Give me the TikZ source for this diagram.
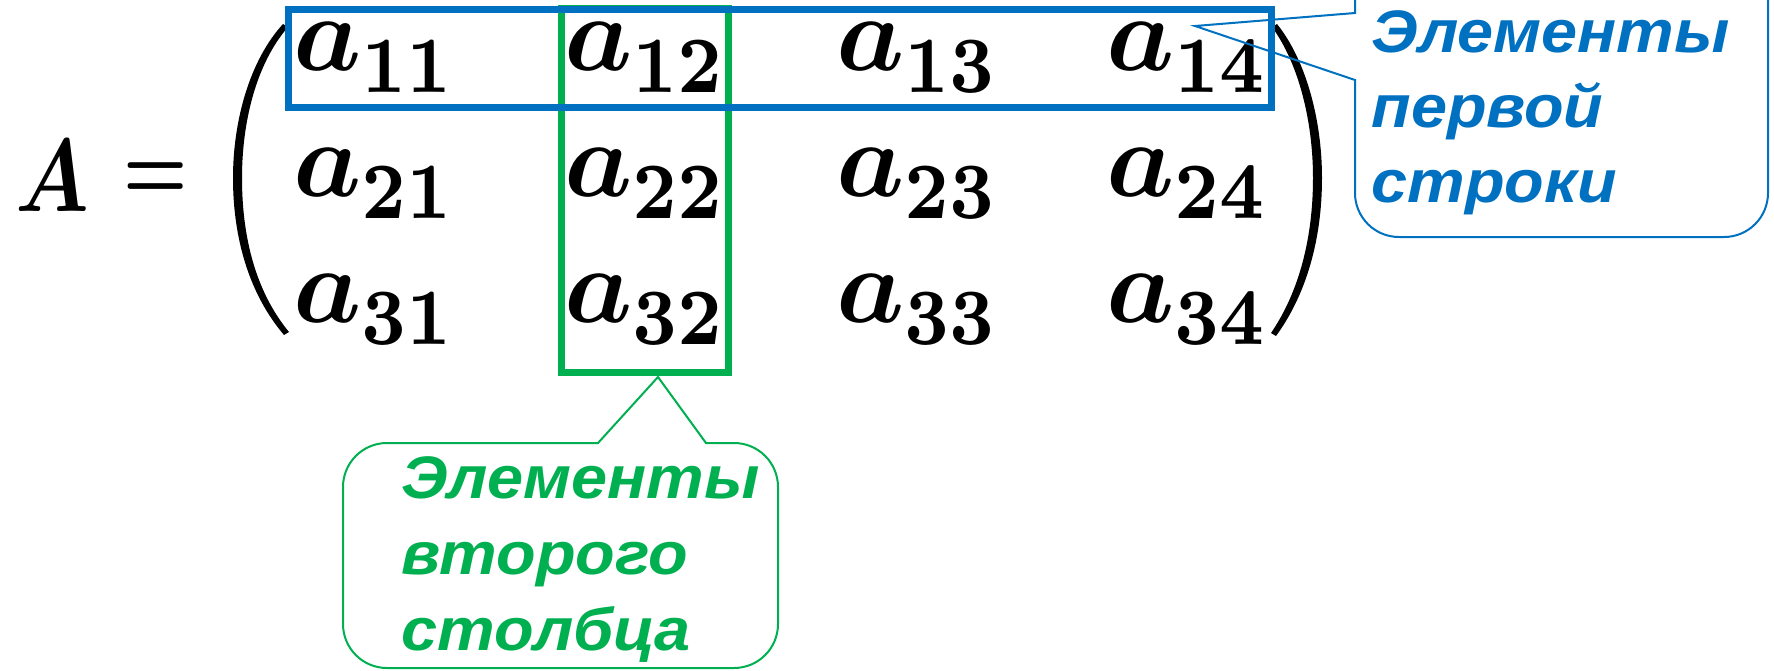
\documentclass[tikz,border=0pt]{standalone}
\usepackage{amsmath,bm}
\usepackage{fontspec}
\newfontfamily\callfont{Liberation Sans}[FakeStretch=1.08]
\definecolor{rowblue}{HTML}{0070C0}
\definecolor{colgreen}{HTML}{00B050}
\newcommand{\subs}[1]{\raisebox{-2.04pt}{\fontsize{7.4}{8}\selectfont\bfseries\scalebox{0.87}[1]{#1}}}
\tikzset{
  elem/.style={anchor=base west, inner sep=0pt, outer sep=0pt, scale=5.4},
  calltext/.style={anchor=base west, inner sep=0pt, font=\callfont\bfseries\itshape\fontsize{30}{32}\selectfont},
  hlbox/.style={line width=3.5pt},
  callline/.style={line width=1pt},
  parenfill/.style={fill=black, draw=none}
}
\begin{document}
\begin{tikzpicture}[x=0.5pt,y=-0.5pt]
\useasboundingbox (0,0) rectangle (1774,670);
\clip (0,0) rectangle (1774,670);
% A =
\node[anchor=base west, inner sep=0pt, scale=5.17] (A) at (13,211) {\scalebox{0.82}[1]{$\bm{A}$}};
\node[anchor=base, inner sep=0pt, scale=3.6] (eq) at (156,199.5) {\scalebox{1}[1.3]{$\bm{=}$}};
% parentheses
\fill[parenfill] (283,24) .. controls (250,60) and (233,120) .. (233,178) .. controls (233,240) and (250,295) .. (284,335)
  -- (289,332) .. controls (256,292) and (242,238) .. (242,178) .. controls (242,122) and (256,64) .. (288,27) -- cycle;
\fill[parenfill] (1277,24) .. controls (1306,60) and (1322,120) .. (1322,178) .. controls (1322,240) and (1306,295) .. (1276,336)
  -- (1271,333) .. controls (1299,292) and (1313,238) .. (1313,178) .. controls (1313,122) and (1299,64) .. (1272,27) -- cycle;
% elements
\node[elem] (a11) at (293,70) {$\bm{a}$\subs{11}};
\node[elem] (a12) at (564,70) {$\bm{a}$\subs{12}};
\node[elem] (a13) at (836,70) {$\bm{a}$\subs{13}};
\node[elem] (a14) at (1106,70) {$\bm{a}$\subs{14}};
\node[elem] (a21) at (293,196) {$\bm{a}$\subs{21}};
\node[elem] (a22) at (564,196) {$\bm{a}$\subs{22}};
\node[elem] (a23) at (836,196) {$\bm{a}$\subs{23}};
\node[elem] (a24) at (1106,196) {$\bm{a}$\subs{24}};
\node[elem] (a31) at (293,322) {$\bm{a}$\subs{31}};
\node[elem] (a32) at (564,322) {$\bm{a}$\subs{32}};
\node[elem] (a33) at (836,322) {$\bm{a}$\subs{33}};
\node[elem] (a34) at (1106,322) {$\bm{a}$\subs{34}};
% highlight boxes
\draw[hlbox, colgreen] (561,8) rectangle (728,372);
\draw[hlbox, rowblue] (288,9) rectangle (1271,107);
% blue callout
\coordinate (btip) at (1195,26);
\coordinate (bj1) at (1355,13);
\coordinate (bj2) at (1355,80);
\draw[callline, rowblue, rounded corners=22pt] (1355,-50) rectangle (1768,237);
\fill[white] (1352,14) rectangle (1358,79);
\draw[callline, rowblue] (bj1) -- (btip) -- (bj2);
\node[calltext, text=rowblue] (bt1) at (1371,52) {Элементы};
\node[calltext, text=rowblue] (bt2) at (1371,127) {первой};
\node[calltext, text=rowblue] (bt3) at (1371,202) {строки};
% green callout
\coordinate (gtip) at (658,377);
\coordinate (gj1) at (598,443);
\coordinate (gj2) at (706,443);
\draw[callline, colgreen, rounded corners=22pt] (343,443) rectangle (778,668);
\fill[white] (599,440) rectangle (705,446);
\draw[callline, colgreen] (gj1) -- (gtip) -- (gj2);
\node[calltext, text=colgreen] (gt1) at (401,498) {Элементы};
\node[calltext, text=colgreen] (gt2) at (401,574) {второго};
\node[calltext, text=colgreen] (gt3) at (401,650) {столбца};
\end{tikzpicture}
\end{document}
